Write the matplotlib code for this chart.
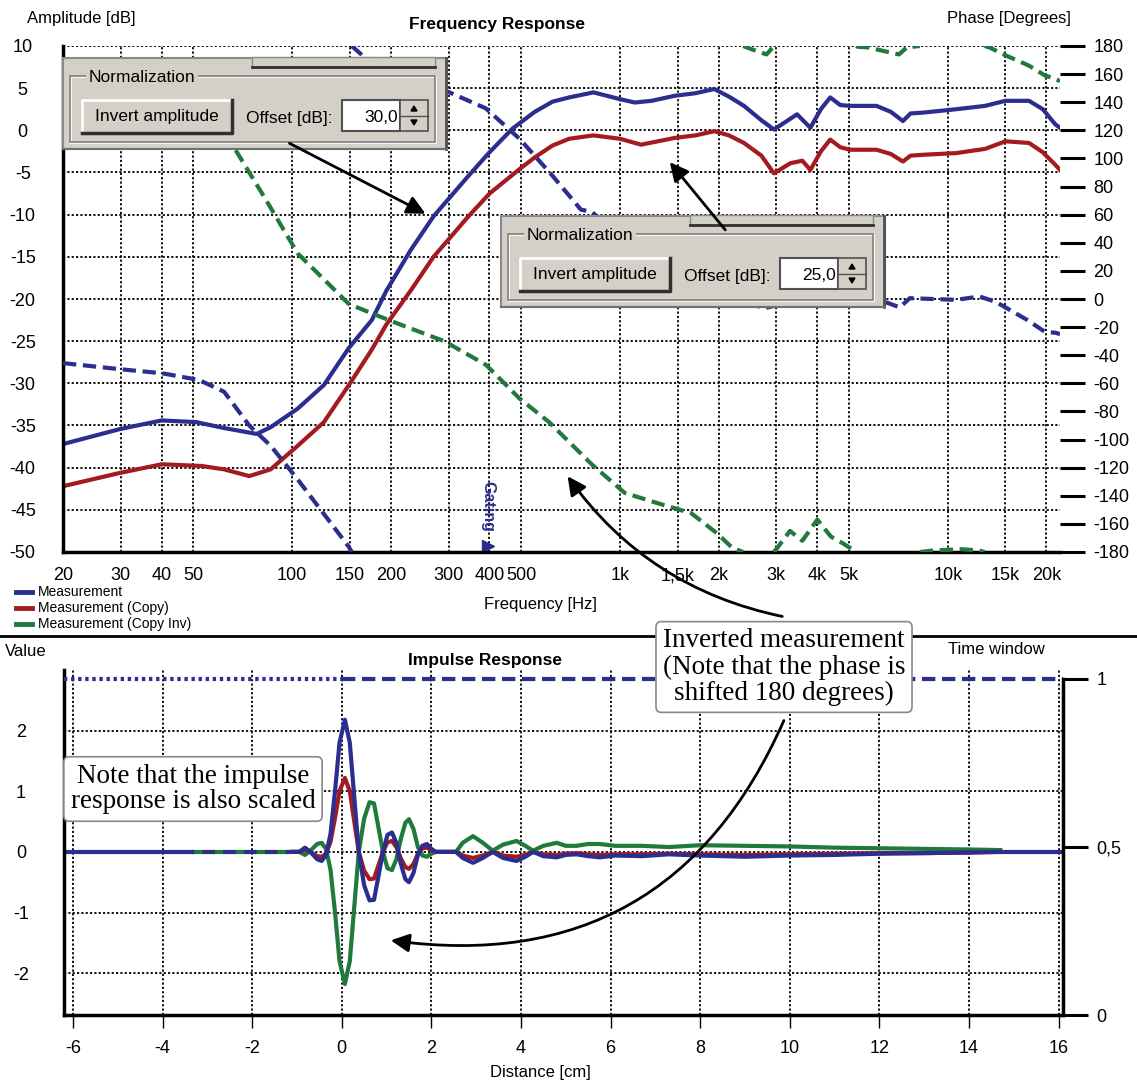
import numpy as np
import matplotlib
matplotlib.use('Agg')
import matplotlib.pyplot as plt
from matplotlib.patches import Rectangle, Polygon

# ---------------- frequency response data ----------------
freq_meas = [20, 30, 40, 51, 62, 78, 86, 104, 125, 149, 175, 194, 230, 270, 345, 400, 470, 550, 623, 700,
             830, 1000, 1110, 1250, 1470, 1700, 1940, 2150, 2390, 2700, 2950, 3200, 3470, 3810, 4100,
             4380, 4700, 5030, 6060, 6700, 7300, 7700, 8400, 10600, 13000, 15000, 17700, 19500, 21300, 22000]
amp_meas = [-37.2, -35.4, -34.4, -34.6, -35.3, -36.0, -35.2, -33.0, -30.2, -25.8, -22.5, -19.0, -14.2, -10.2,
            -5.4, -2.6, 0.2, 2.2, 3.4, 3.9, 4.5, 3.7, 3.3, 3.5, 4.1, 4.4, 4.9, 4.0, 2.9, 1.2, 0.1, 1.0,
            1.9, 0.3, 2.5, 3.9, 3.0, 2.9, 2.9, 2.2, 1.1, 2.0, 2.1, 2.5, 2.9, 3.5, 3.5, 2.5, 0.7, 0.3]

freq_copy = [20, 30, 40, 53, 62, 74, 86, 104, 125, 149, 175, 194, 230, 270, 345, 400, 494, 550, 623, 700,
             830, 1000, 1160, 1470, 1700, 1940, 2150, 2390, 2700, 2950, 3310, 3600, 3810, 4100, 4380,
             4700, 5030, 6060, 6700, 7300, 7700, 8400, 10600, 13000, 15000, 17700, 19500, 21300, 22000]
amp_copy = [-42.2, -40.6, -39.6, -39.8, -40.2, -41.0, -40.2, -37.4, -34.6, -30.2, -26.0, -23.0, -19.0, -15.0,
            -10.2, -7.5, -4.6, -3.2, -1.8, -1.0, -0.6, -1.0, -1.7, -0.9, -0.6, -0.1, -0.6, -1.5, -3.0,
            -5.1, -3.9, -3.6, -4.7, -2.5, -1.1, -2.0, -2.3, -2.3, -2.8, -3.7, -3.0, -2.9, -2.7, -2.2,
            -1.3, -1.5, -2.6, -4.1, -4.7]

# phase in degrees (unwrapped, wrapped to +-180 when drawn)
freq_phase_meas = [20, 30, 40, 52, 62, 74, 86, 104, 149, 152, 167, 270, 390, 494, 623, 760, 820, 1000,
                   1500, 2000, 2750, 3500, 4500, 5500, 6060, 6600, 7140, 7660, 9000, 10600, 12500,
                   14000, 15000, 17500, 19800, 21300, 22000]
phase_meas = [-45.6, -50.0, -52.8, -57.6, -66.0, -90.0, -104.4, -128.4, -176.4, -180.0, -188.4, -208.0,
              -224.4, -246.0, -272.4, -296.4, -298.0, -315.0, -340.0, -355.0, -366.6, -361.0, -362.0,
              -361.0, -360.6, -363.0, -366.0, -359.4, -360.0, -360.6, -358.2, -362.0, -366.0, -375.0,
              -383.4, -384.0, -385.0]

freq_phase_inv = [20, 40, 66, 82, 104, 149, 200, 291, 390, 494, 608, 820, 1035, 1300, 1650, 1980, 2200,
                  2500, 2800, 3000, 3300, 3600, 4000, 4400, 4800, 5300, 5700, 6500, 7100, 7500, 9000,
                  11000, 12500, 13400, 15000, 17700, 19800, 21300, 22000]
phase_inv = [134.0, 127.0, 109.0, 73.0, 32.4, -3.6, -15.6, -30.0, -46.8, -70.8, -87.6, -117.6, -138.0,
             -145.2, -152.4, -166.8, -177.0, -182.0, -186.0, -178.0, -165.0, -172.0, -157.0, -169.0,
             -174.0, -180.5, -181.0, -184.0, -186.0, -181.0, -179.0, -178.0, -179.0, -181.0, -186.6,
             -194.0, -201.0, -203.4, -205.0]

freq_ticks = [20, 30, 40, 50, 100, 150, 200, 300, 400, 500, 1000, 1500, 2000, 3000, 4000, 5000,
              10000, 15000, 20000]
freq_tick_labels = ['20', '30', '40', '50', '100', '150', '200', '300', '400', '500', '1k', '1,5k',
                    '2k', '3k', '4k', '5k', '10k', '15k', '20k']
amp_ticks = [10, 5, 0, -5, -10, -15, -20, -25, -30, -35, -40, -45, -50]
phase_ticks = list(range(-180, 181, 20))
gating_freq = 395

# ---------------- impulse response data ----------------
imp_x_meas = [-6.2, -3.35]
imp_meas_lead = [0.0, 0.0]
imp_x_dash = [-3.35, -1.1]
imp_dash = [0.0, 0.0]

imp_x = [-1.1, -0.95, -0.82, -0.7, -0.55, -0.45, -0.35, -0.25, -0.15, -0.05, 0.07, 0.18, 0.28, 0.38,
         0.5, 0.62, 0.72, 0.82, 0.92, 1.02, 1.12, 1.22, 1.32, 1.42, 1.5, 1.6, 1.7, 1.8, 1.9, 2.0,
         2.1, 2.55, 2.7, 2.93, 3.15, 3.37, 3.6, 3.9, 4.1, 4.27, 4.5, 4.8, 5.0, 5.24, 5.5, 5.76,
         6.1, 6.7, 7.3, 8.0, 9.0, 10.0, 11.0, 12.0, 13.0, 14.0, 14.7]
imp_meas = [0.0, 0.0, 0.07, 0.0, -0.12, -0.15, -0.05, 0.3, 1.0, 1.8, 2.18, 1.8, 0.9, 0.0,
            -0.55, -0.8, -0.79, -0.4, 0.0, 0.28, 0.32, 0.15, -0.2, -0.45, -0.5, -0.35, -0.05, 0.1,
            0.13, 0.05, 0.0, 0.0, -0.1, -0.18, -0.1, 0.0, -0.1, -0.15, -0.08, 0.0, -0.07, -0.09,
            -0.05, -0.04, -0.07, -0.09, -0.06, -0.07, -0.04, -0.06, -0.08, -0.06, -0.05, -0.03,
            -0.02, -0.01, 0.0]
imp_copy = [0.0, 0.0, 0.04, 0.0, -0.07, -0.08, -0.03, 0.17, 0.56, 1.0, 1.22, 1.0, 0.5, 0.0,
            -0.31, -0.45, -0.44, -0.22, 0.0, 0.16, 0.18, 0.08, -0.11, -0.25, -0.28, -0.2, -0.03, 0.06,
            0.07, 0.03, 0.0, 0.0, -0.06, -0.1, -0.06, 0.0, -0.06, -0.08, -0.05, 0.0, -0.04, -0.05,
            -0.03, -0.02, -0.04, -0.05, -0.04, -0.04, -0.03, -0.04, -0.05, -0.04, -0.03, -0.02,
            -0.02, -0.01, 0.0]
imp_inv = [0.0, 0.0, -0.05, 0.02, 0.13, 0.15, 0.05, -0.3, -1.0, -1.8, -2.18, -1.8, -0.9, 0.0,
           0.55, 0.82, 0.8, 0.4, 0.0, -0.27, -0.3, -0.12, 0.22, 0.48, 0.54, 0.38, 0.08, -0.06,
           -0.08, -0.03, 0.0, 0.0, 0.15, 0.26, 0.15, 0.02, 0.12, 0.18, 0.1, 0.02, 0.1, 0.15,
           0.1, 0.1, 0.13, 0.13, 0.1, 0.1, 0.08, 0.11, 0.1, 0.09, 0.07, 0.06, 0.05, 0.04, 0.03]
imp_x_tail = [14.7, 16.1]
imp_meas_tail = [0.0, 0.0]

window_x = [-6.2, 0.0, 16.1]
window_val = [1.0, 1.0, 1.0]
dist_ticks = list(range(-6, 17, 2))
value_ticks = [-2, -1, 0, 1, 2]

NAVY = '#2b2e8e'
RED = '#a31b20'
GREEN = '#1f7a3b'
SANS = ['Liberation Sans', 'DejaVu Sans']
SERIF = ['Liberation Serif', 'DejaVu Serif']
plt.rcParams['font.family'] = SANS
GRID = dict(color='black', linestyle=(0, (1.2, 1.2)), linewidth=1.3)


def wrap_phase(f, p):
    # wrap to [-180, 180) and break the line at each jump, touching both edges
    f = np.log10(np.asarray(f, float))
    p = np.asarray(p, float)
    xs, ys = [], []
    for i in range(len(p)):
        if i > 0:
            k0 = np.floor((p[i - 1] + 180) / 360)
            k1 = np.floor((p[i] + 180) / 360)
            if k0 != k1:
                b = 360 * max(k0, k1) - 180
                t = (b - p[i - 1]) / (p[i] - p[i - 1])
                fc = f[i - 1] + t * (f[i] - f[i - 1])
                if k1 < k0:
                    xs += [fc, np.nan, fc]
                    ys += [-180.0, np.nan, 180.0]
                else:
                    xs += [fc, np.nan, fc]
                    ys += [180.0, np.nan, -180.0]
        xs.append(f[i])
        ys.append((p[i] + 180) % 360 - 180)
    return 10 ** np.array(xs), np.array(ys)


fig = plt.figure(figsize=(11.37, 10.84), dpi=100)
W, H = 1137, 1084

# ---------------- frequency response ----------------
ax = fig.add_axes([63 / W, 1 - 552 / H, (1060 - 63) / W, (552 - 46) / H])
ax.set_xscale('log')
ax.set_xlim(20, 22000)
ax.set_ylim(-50, 10)
ax.plot(freq_meas, amp_meas, color=NAVY, lw=3)
ax.plot(freq_copy, amp_copy, color=RED, lw=3)
ax.set_xticks(freq_ticks)
ax.set_xticklabels(freq_tick_labels)
ax.minorticks_off()
ax.set_yticks(amp_ticks)
ax.set_yticklabels([str(v) for v in amp_ticks])
ax.grid(True, **GRID)
ax.tick_params(axis='x', length=0, pad=20.5, labelsize=13)
ax.tick_params(axis='y', length=0, pad=29, labelsize=13)
for lab in ax.get_xticklabels():
    lab.set_va('baseline')
for lab in ax.get_yticklabels():
    lab.set_ha('center')
for s in ['top', 'right']:
    ax.spines[s].set_visible(False)
for s in ['left', 'bottom']:
    ax.spines[s].set_linewidth(2.5)
ax.text(gating_freq, -41.6, 'Gating', rotation=270, color=NAVY, fontsize=11.5,
        fontweight='bold', ha='center', va='top')
ax.plot([gating_freq], [-49.3], marker='>', color=NAVY, ms=8, clip_on=False)

axr = ax.twinx()
axr.set_ylim(-180, 180)
fx, py = wrap_phase(freq_phase_meas, phase_meas)
axr.plot(fx, py, color=NAVY, lw=3, linestyle=(0, (3.2, 1.6)))
fx, py = wrap_phase(freq_phase_inv, phase_inv)
axr.plot(fx, py, color=GREEN, lw=3, linestyle=(0, (3.2, 1.6)))
axr.set_yticks(phase_ticks)
axr.set_yticklabels([str(v) for v in phase_ticks])
axr.tick_params(axis='y', length=18, width=2.2, pad=6, labelsize=13)
for s in ['top', 'right', 'left', 'bottom']:
    axr.spines[s].set_visible(False)

# ---------------- impulse response ----------------
bx = fig.add_axes([64 / W, 1 - 1015 / H, (1063 - 64) / W, (1015 - 670) / H])
bx.set_xlim(-6.2, 16.1)
bx.set_ylim(-2.69, 3.0)
bx.plot(imp_x_meas, imp_meas_lead, color=NAVY, lw=3)
bx.plot(imp_x_dash, imp_dash, color=GREEN, lw=3, linestyle=(0, (3, 2)))
bx.plot(imp_x_dash, imp_dash, color=NAVY, lw=3, linestyle=(2.5, (3, 2)))
bx.plot(imp_x, imp_inv, color=GREEN, lw=3)
bx.plot(imp_x, imp_copy, color=RED, lw=3)
bx.plot(imp_x, imp_meas, color=NAVY, lw=3)
bx.plot(imp_x_tail, imp_meas_tail, color=NAVY, lw=3)
bx.set_xticks(dist_ticks)
bx.set_xticklabels([str(v) for v in dist_ticks])
bx.set_yticks(value_ticks)
bx.set_yticklabels([str(v) for v in value_ticks])
bx.grid(True, **GRID)
bx.tick_params(axis='x', length=9, width=1, pad=9, labelsize=13)
bx.tick_params(axis='y', length=0, pad=31, labelsize=13)
for lab in bx.get_yticklabels():
    lab.set_ha('center')
bx.spines['top'].set_visible(False)
bx.spines['right'].set_visible(False)
for s in ['left', 'bottom']:
    bx.spines[s].set_linewidth(2.5)

bxr = bx.twinx()
bxr.set_ylim(0, 1.026)
bxr.plot(window_x[:2], window_val[:2], color=NAVY, lw=3, linestyle=(0, (0.8, 0.9)))
bxr.plot(window_x[1:], window_val[1:], color=NAVY, lw=3, linestyle=(0, (3.2, 1.6)))
bxr.set_yticks([0, 0.5, 1])
bxr.set_yticklabels(['0', '0,5', '1'])
bxr.tick_params(axis='y', length=18, width=2.2, pad=6, labelsize=13)
for s in ['top', 'left', 'bottom']:
    bxr.spines[s].set_visible(False)
bxr.spines['right'].set_linewidth(2.5)
bxr.spines['right'].set_bounds(0, 1)

# ---------------- overlay in pixel coordinates ----------------
px = fig.add_axes([0, 0, 1, 1], zorder=20)
px.set_xlim(0, W)
px.set_ylim(H, 0)
px.axis('off')
px.patch.set_alpha(0)

px.text(27, 18, 'Amplitude [dB]', fontsize=12, va='center')
px.text(947, 18, 'Phase [Degrees]', fontsize=12, va='center')
px.text(497, 25, 'Frequency Response', fontsize=12.5, fontweight='bold', ha='center', va='center')
px.text(540, 605, 'Frequency [Hz]', fontsize=12, ha='center', va='center')
px.text(5, 651, 'Value', fontsize=12, va='center')
px.text(948, 650, 'Time window', fontsize=12, va='center')
px.text(485, 660, 'Impulse Response', fontsize=12.5, fontweight='bold', ha='center', va='center')
px.text(540, 1072, 'Distance [cm]', fontsize=12, ha='center', va='center')
px.plot([0, W], [636, 636], color='black', lw=2)

for i, (name, col) in enumerate([('Measurement', NAVY), ('Measurement (Copy)', RED),
                                  ('Measurement (Copy Inv)', GREEN)]):
    y = 592 + i * 16
    px.plot([16, 32], [y, y], color=col, lw=3.5)
    px.text(38, y, name, fontsize=10, va='center')

GREY = '#d4d0c8'


def draw_panel(x0, y0, value):
    px.add_patch(Rectangle((x0, y0), 384, 91, facecolor=GREY, edgecolor='#8a8a8a', lw=1.5))
    px.add_patch(Rectangle((x0 + 189, y0 - 1), 183, 10, facecolor=GREY, edgecolor='#8a8a8a', lw=1))
    px.plot([x0 + 189, x0 + 372], [y0 + 9, y0 + 9], color='#303030', lw=2)
    px.plot([x0 + 383, x0 + 383], [y0, y0 + 91], color='#505050', lw=2)
    px.plot([x0, x0 + 384], [y0 + 91, y0 + 91], color='#707070', lw=1.5)
    # group frame
    px.add_patch(Rectangle((x0 + 8, y0 + 19), 365, 66, facecolor='none', edgecolor='white', lw=1.2))
    px.add_patch(Rectangle((x0 + 7, y0 + 18), 365, 66, facecolor='none', edgecolor='#808080', lw=1.2))
    px.text(x0 + 26, y0 + 19, 'Normalization', fontsize=12.5, va='center',
            bbox=dict(boxstyle='square,pad=0.15', facecolor=GREY, edgecolor='none'))
    # button
    px.add_patch(Rectangle((x0 + 19, y0 + 42), 150, 33, facecolor=GREY, edgecolor='none'))
    px.plot([x0 + 19, x0 + 19, x0 + 169], [y0 + 75, y0 + 42, y0 + 42], color='white', lw=2)
    px.plot([x0 + 19, x0 + 169, x0 + 169], [y0 + 75, y0 + 75, y0 + 42], color='#303030', lw=2.5)
    px.text(x0 + 94, y0 + 59, 'Invert amplitude', fontsize=12.5, ha='center', va='center')
    px.text(x0 + 183, y0 + 60, 'Offset [dB]:', fontsize=12.5, va='center')
    # edit box and spinner
    px.add_patch(Rectangle((x0 + 279, y0 + 42), 58, 31, facecolor='white', edgecolor='#505050', lw=1.5))
    px.text(x0 + 335, y0 + 59, value, fontsize=12.5, ha='right', va='center')
    px.add_patch(Rectangle((x0 + 337, y0 + 42), 28, 31, facecolor=GREY, edgecolor='#505050', lw=1.2))
    px.plot([x0 + 337, x0 + 365], [y0 + 57.5, y0 + 57.5], color='#505050', lw=1)
    px.add_patch(Polygon([[x0 + 348, y0 + 53], [x0 + 354, y0 + 53], [x0 + 351, y0 + 48]], color='black'))
    px.add_patch(Polygon([[x0 + 348, y0 + 62], [x0 + 354, y0 + 62], [x0 + 351, y0 + 67]], color='black'))


draw_panel(63, 58, '30,0')
draw_panel(501, 216, '25,0')

arrow = dict(arrowstyle='-|>', color='black', lw=2, mutation_scale=28)
px.annotate('', xy=(428, 215), xytext=(287, 142), arrowprops=arrow)
px.annotate('', xy=(668, 160), xytext=(727, 232), arrowprops=arrow)

note_box = dict(boxstyle='round,pad=0.25,rounding_size=0.2', facecolor='white', edgecolor='#888888', lw=1.2)
px.text(784, 667, 'Inverted measurement\n(Note that the phase is\nshifted 180 degrees)',
        fontsize=19.5, family=SERIF, ha='center', va='center', linespacing=1.05, bbox=note_box, zorder=5)
px.text(193, 789, 'Note that the impulse\nresponse is also scaled',
        fontsize=19.5, family=SERIF, ha='center', va='center', linespacing=1.05, bbox=note_box, zorder=5)

carrow = dict(arrowstyle='-|>', color='black', lw=2, mutation_scale=28)
px.annotate('', xy=(566, 474), xytext=(785, 617),
            arrowprops=dict(connectionstyle='arc3,rad=-0.2', **carrow), zorder=4)
px.annotate('', xy=(388, 940), xytext=(785, 718),
            arrowprops=dict(connectionstyle='arc3,rad=-0.38', **carrow), zorder=4)

fig.savefig('out.png', dpi=100)
